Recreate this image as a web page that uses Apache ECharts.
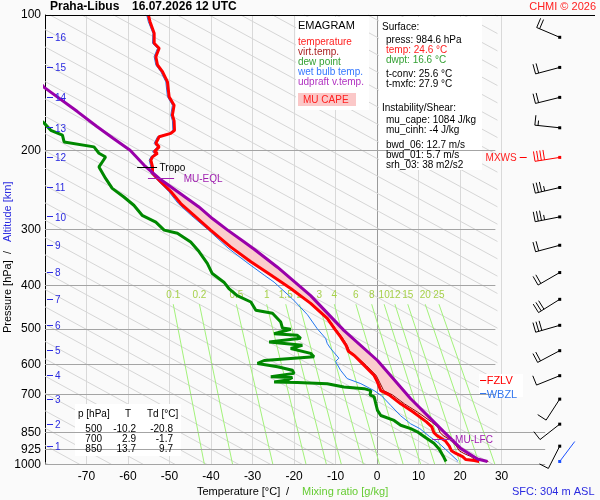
<!DOCTYPE html>
<html>
<head>
<meta charset="utf-8">
<title>Praha-Libus emagram</title>
<script src="https://cdn.jsdelivr.net/npm/echarts@6.0.0/dist/echarts.min.js"></script>
<style>
html, body { margin: 0; padding: 0; background: #fafafa; }
#chart { width: 600px; height: 500px; }
</style>
</head>
<body>
<div id="chart"></div>
<script>
// ---- sounding data ----
var pressureTicks = [100, 200, 300, 400, 500, 600, 700, 850, 925, 1000];
var pressureLines = [200, 300, 400, 500, 600, 700, 850, 925, 1000];
var isotherms = [-70, -60, -50, -40, -30, -20, -10, 0, 10, 20, 30];

// temperature
var tempP = [100, 103.5, 109.8, 115.6, 118.6, 123.8, 129.2, 133.7, 140.8, 152, 158.7, 167, 172, 180.5, 183.4,
    186.6, 193, 196.5, 201.6, 203, 206.8, 210.4, 217.8, 225, 233, 247, 262.7, 279, 301, 328, 354, 379, 406, 438, 473,
    500, 520, 543, 560, 572, 602, 634, 656, 685, 700, 733, 764, 804, 825, 850, 862, 885, 910, 932, 945, 960, 975, 980, 984.6];
var tempT = [-55.1, -54.7, -53.7, -53.7, -52.5, -53.3, -52.9, -51.7, -50.5, -50.1, -48.9, -49.3, -48.9, -48.8, -49.7,
    -52.5, -53.3, -52.5, -53.7, -52.9, -54.1, -54.5, -54.1, -54.1, -52.5, -49.7, -47.3, -44.1, -40.1, -35.3, -30.4, -25.6, -20.8, -16.0, -12.0,
    -10.2, -8.8, -7.5, -6.9, -5.5, -3.1, -0.7, 0.1, 0.9, 2.9, 5.7, 8.7, 11.9, 13.2, 13.7, 14.4, 16.4, 17.4, 17.9, 19.0, 20.6, 21.4, 23.4, 24.6];

// virtual temperature
var virtP = [233, 247, 262.7, 279, 301, 328, 354, 379, 406, 438, 473, 500, 520, 543, 560, 572, 602, 634, 656, 685,
    700, 733, 764, 804, 825, 850, 862, 885, 910, 932, 945, 960, 975, 980, 984.6];
var virtT = [-52.5, -49.7, -47.3, -44.1, -40.0, -35.2, -30.3, -25.5, -20.6, -15.8, -11.8, -9.9, -8.5, -7.2, -6.6, -5.2, -2.6, -0.2, 0.6, 1.6,
    3.7, 6.6, 9.7, 13.1, 14.6, 15.2, 15.9, 17.9, 19.1, 19.8, 20.9, 22.6, 23.5, 25.5, 26.8];

// dew point
var dewP = [170, 174, 180.5, 185, 191.6, 196.5, 203, 207, 217.8, 231, 243, 254, 265, 279, 289, 301, 306, 320, 336, 357,
    376, 393, 406, 421, 435, 454, 461, 482, 497, 500, 512, 516, 524, 534, 543, 552, 566, 576, 587, 596,
    606, 617, 627, 638, 640, 649, 655, 657, 661, 672, 678, 685, 700, 707, 733, 758, 778, 798, 818, 832, 846, 866, 897, 922, 964, 984.6];
var dewT = [-81.5, -80.2, -78.6, -75.8, -75.4, -68.2, -67.0, -65.4, -67.0, -65.4, -63.8, -61.0, -58.6, -56.6, -53.3, -51.3, -48.1, -44.9, -42.9, -40.9,
    -39.7, -36.9, -35.7, -33.7, -30.4, -29.2, -25.2, -23.2, -22.8, -20.8, -24.8, -19.2, -18.4, -26.0, -18.0, -20.8, -16.0, -15.2, -27.2, -28.8,
    -24.0, -20.4, -20.0, -25.6, -20.4, -21.6, -24.8, -19.2, -12.0, -8.0, -3.1, -1.5, -1.7, -0.7, -0.3, 0.1, 0.9, 4.1, 5.7, 8.1, 9.7, 11.3, 13.7, 14.9, 16.1, 16.6];

// wet bulb temperature
var wetP = [100, 103.5, 109.8, 115.6, 118.6, 123.8, 129.2, 133.7, 140.8, 152, 158.7, 167, 172, 180.5, 183.4,
    186.6, 193, 196.5, 201.6, 203, 206.8, 210.4, 217.8, 225, 233, 247, 262.7, 279, 301, 330, 354, 379, 393, 428, 464,
    499, 524, 538, 552, 580, 590, 617, 644, 661, 685, 702, 739, 778, 812, 832, 866, 897, 940, 981, 984.6];
var wetT = [-55.5, -55.1, -54.0, -54.1, -52.9, -53.7, -53.3, -52.1, -50.9, -50.5, -49.3, -49.7, -49.3, -49.2, -50.1,
    -52.9, -53.7, -52.9, -54.1, -53.3, -54.5, -54.9, -54.5, -54.5, -52.9, -50.2, -47.9, -44.8, -40.6, -35.9, -31.6, -27.2, -24.8, -20.4, -16.8,
    -14.4, -12.4, -12.0, -11.2, -9.2, -10.0, -8.8, -7.2, -3.9, -0.7, 1.0, 3.3, 5.6, 8.1, 10.3, 12.6, 14.9, 17.3, 19.4, 19.3];

// most unstable parcel (updraft virtual temperature)
var parcelP = [140, 144.9, 164, 177, 188, 200, 216, 231, 247, 267, 284, 301, 320, 332, 364, 421, 503, 587, 714, 846, 922, 972, 984.6];
var parcelT = [-81.6, -80.2, -72.2, -67.5, -63.6, -59.5, -56.1, -52.5, -48.1, -43.0, -39.6, -36.0, -32.0, -29.6, -24.0, -16.0, -8.0, 0.1, 8.1, 16.1, 20.2, 24.2, 26.6];

var lfcP = 879;
var eqlP = 230.6;

// mixing ratio lines [g/kg]: temperature at top (440 hPa) and at 1000 hPa
var mixRatio = [0.1, 0.2, 0.5, 1, 1.5, 2, 3, 4, 6, 8, 10, 12, 15, 20, 25];
var mixTopT = [-49.1, -42.8, -33.9, -26.6, -22.0, -18.7, -13.9, -10.3, -5.1, -1.3, 1.7, 4.3, 7.4, 11.6, 14.9];
var mixBottomT = [-41.6, -34.8, -25.1, -17.1, -12.2, -8.6, -3.3, 0.6, 6.3, 10.5, 13.9, 16.6, 20.1, 24.7, 28.4];

// altitude scale
var altKm = [16, 15, 14, 13, 12, 11, 10, 9, 8, 7, 6, 5, 4, 3, 2, 1];
var altP = [112.1, 130.8, 152.5, 178.2, 207.4, 242.0, 281.3, 325.3, 374.1, 429.1, 490.2, 558.2, 634.5, 715.4, 813.3, 910.3];

// winds at the altitude levels (direction deg, speed kt)
var windDir = [293, 255, 256, 276, 261, 257, 259, 255, 240, 238, 254, 242, 248, 213, 232, 207];
var windSpd = [20, 20, 20, 15, 40, 35, 35, 20, 20, 30, 30, 20, 10, 10, 10, 10];
var mxwsIndex = 4;
var sfcP = 984.6, sfcWindDir = 37, sfcWindSpd = 0;

// marked levels
var levelName = ['Tropo', 'MU-EQL', 'MU-LFC', 'FZLV', 'WBZL'];
var levelP = [218, 230.6, 879, 650, 695];

// table
var tableP = [500, 700, 850];
var tableT = ['-10.2', '2.9', '13.7'];
var tableTd = ['-20.8', '-1.7', '9.7'];

// ---- styles ----
var FONT = '"Liberation Sans", Arial, sans-serif';
function font(size, bold) { return (bold ? 'bold ' : '') + size + 'px ' + FONT; }
var levelStyle = [
    {color: '#000000', x0: -57.8, x1: -53.0, tx: -52.4, size: 10},
    {color: '#a020b0', x0: -55.2, x1: -48.9, tx: -46.6, size: 10},
    {color: '#a020b0', x0: 13.3, x1: 18.6, tx: 18.8, size: 10},
    {color: '#ff0000', x0: 24.8, x1: 26.3, tx: 26.4, size: 11},
    {color: '#3377ee', x0: 24.8, x1: 26.3, tx: 26.4, size: 11}
];
var windColumnT = 44;
var adiabatAnchorT = 142.9, adiabatStepT = 7.66, adiabatSpanT = 198.7, adiabatEndT = 29;
var mixTopP = 440;
var xMin = -80, xMax = 52.5;

function pairs(tArr, pArr) {
    var out = [];
    for (var i = 0; i < pArr.length; i++) out.push([tArr[i], pArr[i]]);
    return out;
}
function crisp(v) { return Math.round(v - 0.5) + 0.5; }
function interpT(pArr, tArr, p) {
    for (var i = 1; i < pArr.length; i++) {
        if (p <= pArr[i]) {
            var f = Math.log(p / pArr[i - 1]) / Math.log(pArr[i] / pArr[i - 1]);
            return tArr[i - 1] + f * (tArr[i] - tArr[i - 1]);
        }
    }
    return tArr[tArr.length - 1];
}

// ---- render functions ----
function renderIsotherm(params, api) {
    var t = api.value(0);
    var a = api.coord([t, 100]), b = api.coord([t, 1000]);
    var x = crisp(a[0]);
    return {type: 'line', shape: {x1: x, y1: a[1], x2: x, y2: b[1]},
        style: {stroke: t === 0 ? '#9a9a9a' : '#d9d9d9', lineWidth: 1}};
}

function renderPressureLine(params, api) {
    var p = api.value(1);
    var a = api.coord([xMin, p]), b = api.coord([p >= 850 ? 40.5 : 28.5, p]);
    var y = crisp(a[1]);
    return {type: 'line', shape: {x1: a[0], y1: y, x2: b[0], y2: y},
        style: {stroke: '#a4a4a4', lineWidth: 1}};
}

// black top frame of the diagram, along the 100 hPa level
function renderFrame(params, api) {
    var a = api.coord([xMin, 500]), b = api.coord([xMax, 500]);
    var top = api.coord([xMin, 100])[1];
    return {type: 'rect', shape: {x: a[0], y: Math.round(top), width: b[0] - a[0], height: 1},
        style: {fill: '#000000'}};
}

function renderAdiabats(params, api) {
    var left = api.coord([xMin, 1000])[0], right = api.coord([adiabatEndT, 1000])[0];
    var kids = [];
    for (var k = -12; k <= 30; k++) {
        var base = adiabatAnchorT - k * adiabatStepT;
        var a = api.coord([base, 1000]), b = api.coord([base - adiabatSpanT, 100]);
        var x1 = a[0], y1 = a[1], x2 = b[0], y2 = b[1];
        if (x1 < left || x2 > right) continue;
        if (x1 > right) { y1 = y2 + (y1 - y2) * (right - x2) / (x1 - x2); x1 = right; }
        if (x2 < left) { y2 = y2 + (y1 - y2) * (left - x2) / (x1 - x2); x2 = left; }
        kids.push({type: 'line', shape: {x1: x1, y1: y1, x2: x2, y2: y2},
            style: {stroke: '#d6d6d6', lineWidth: 1}});
    }
    return {type: 'group', children: kids};
}

function renderMixing(params, api) {
    var a = api.coord([api.value(0), api.value(1)]);
    var b = api.coord([api.value(2), 1000]);
    return {type: 'group', children: [
        {type: 'line', shape: {x1: a[0], y1: a[1], x2: b[0], y2: b[1]},
            style: {stroke: '#a3f27a', lineWidth: 1}},
        {type: 'text', style: {text: String(api.value(3)), x: a[0], y: a[1] - 9,
            textAlign: 'center', textVerticalAlign: 'middle', fill: '#a6d04a', font: font(10)}}
    ]};
}

function renderCape(params, api) {
    var pts = [];
    pts.push(api.coord([interpT(parcelP, parcelT, eqlP), eqlP]));
    for (var i = 0; i < parcelP.length; i++) {
        if (parcelP[i] > eqlP && parcelP[i] < lfcP) pts.push(api.coord([parcelT[i], parcelP[i]]));
    }
    pts.push(api.coord([interpT(parcelP, parcelT, lfcP), lfcP]));
    pts.push(api.coord([interpT(virtP, virtT, lfcP), lfcP]));
    for (var j = virtP.length - 1; j >= 0; j--) {
        if (virtP[j] > eqlP && virtP[j] < lfcP) pts.push(api.coord([virtT[j], virtP[j]]));
    }
    return {type: 'polygon', shape: {points: pts}, style: {fill: '#fbcdcd', stroke: null}};
}

function renderAltitude(params, api) {
    var c = api.coord([xMin, api.value(1)]);
    var y = crisp(c[1]);
    return {type: 'group', children: [
        {type: 'line', shape: {x1: c[0] + 2, y1: y, x2: c[0] + 8, y2: y}, style: {stroke: '#2a2ae0', lineWidth: 1}},
        {type: 'text', style: {text: String(api.value(2)), x: c[0] + 10, y: c[1] + 1,
            textAlign: 'left', textVerticalAlign: 'middle', fill: '#2a2ae0', font: font(10)}}
    ]};
}

function renderLevel(params, api) {
    var s = levelStyle[params.dataIndex];
    var p = api.value(1);
    var a = api.coord([s.x0, p]), b = api.coord([s.x1, p]), t = api.coord([s.tx, p]);
    var y = crisp(a[1]);
    return {type: 'group', children: [
        {type: 'line', shape: {x1: a[0], y1: y, x2: b[0], y2: y}, style: {stroke: s.color, lineWidth: 1}},
        {type: 'text', style: {text: levelName[params.dataIndex], x: t[0], y: a[1] + 1,
            textAlign: 'left', textVerticalAlign: 'middle', fill: s.color, font: font(s.size)}}
    ]};
}

function barbRenderer(color, markMax) {
    return function (params, api) {
        var c = api.coord([api.value(0), api.value(1)]);
        var ang = api.value(2) * Math.PI / 180;
        var spd = api.value(3);
        var col = (markMax && params.dataIndex === mxwsIndex) ? '#ff0000' : color;
        var ux = Math.sin(ang), uy = -Math.cos(ang);
        var bx = Math.cos(ang), by = Math.sin(ang);
        var tx = c[0] + ux * 25, ty = c[1] + uy * 25;
        var kids = [
            {type: 'line', shape: {x1: c[0], y1: c[1], x2: tx, y2: ty}, style: {stroke: col, lineWidth: 1}},
            {type: 'rect', shape: {x: c[0] - 1.5, y: c[1] - 1.5, width: 3, height: 3}, style: {fill: col}}
        ];
        var full = Math.floor(spd / 10), half = (spd % 10) >= 5 ? 1 : 0;
        for (var i = 0; i < full + half; i++) {
            var len = i < full ? 10 : 5;
            var sx = tx - ux * 3.2 * i, sy = ty - uy * 3.2 * i;
            kids.push({type: 'line', shape: {x1: sx, y1: sy, x2: sx + bx * len, y2: sy + by * len},
                style: {stroke: col, lineWidth: 1}});
        }
        if (markMax && params.dataIndex === mxwsIndex) {
            kids.push({type: 'line', shape: {x1: c[0] - 40, y1: crisp(c[1]), x2: c[0] - 33, y2: crisp(c[1])},
                style: {stroke: '#ff0000', lineWidth: 1}});
            kids.push({type: 'text', style: {text: 'MXWS', x: c[0] - 43, y: c[1] + 1, textAlign: 'right',
                textVerticalAlign: 'middle', fill: '#ff2020', font: font(10)}});
        }
        return {type: 'group', children: kids};
    };
}

function lineSeries(data, color, width, z) {
    return {type: 'line', data: data, symbol: 'none', showSymbol: false, z: z,
        lineStyle: {color: color, width: width}, silent: true, animation: false};
}

var windData = altP.map(function (p, i) { return [windColumnT, p, windDir[i], windSpd[i]]; });

// ---- text overlays ----
function txt(x, y, s, color, size, opts) {
    opts = opts || {};
    return {type: 'text', x: x, y: y, z: 20, rotation: opts.rotation || 0,
        style: {text: s, fill: color, font: font(size, opts.bold), textAlign: opts.align || 'left', textVerticalAlign: 'middle'}};
}
function box(x, y, w, h, fill, z) {
    return {type: 'rect', z: z || 2, shape: {x: x, y: y, width: w, height: h}, style: {fill: fill}};
}

var graphics = [
    txt(50, 7, 'Praha-Libus', '#000', 12, {bold: true}),
    txt(132, 7, '16.07.2026 12 UTC', '#000', 12, {bold: true}),
    txt(596, 7, 'CHMI \u00a9 2026', '#ff2020', 11, {align: 'right'}),

    box(296, 17, 73, 93, '#ffffff'),
    txt(298, 26, 'EMAGRAM', '#000', 11),
    txt(298, 42, 'temperature', '#ff2020', 10),
    txt(298, 52, 'virt.temp.', '#aa2222', 10),
    txt(298, 62, 'dew point', '#33a033', 10),
    txt(298, 72, 'wet bulb temp.', '#3377ff', 10),
    txt(298, 82, 'udpraft v.temp.', '#b030c0', 10),
    box(298, 93, 58, 13, '#fbc8c8', 3),
    txt(303, 100, 'MU CAPE', '#ff2020', 10),

    box(379, 17, 103, 153, '#ffffff'),
    txt(382, 27, 'Surface:', '#000', 10),
    txt(386, 40, 'press: 984.6 hPa', '#000', 10),
    txt(386, 50, 'temp: 24.6 \u00b0C', '#ff2020', 10),
    txt(386, 60, 'dwpt: 16.6 \u00b0C', '#33a033', 10),
    txt(386, 74, 't-conv: 25.6 \u00b0C', '#000', 10),
    txt(386, 84, 't-mxfc: 27.9 \u00b0C', '#000', 10),
    txt(382, 108, 'Instability/Shear:', '#000', 10),
    txt(386, 120, 'mu_cape: 1084 J/kg', '#000', 10),
    txt(386, 130, 'mu_cinh: -4 J/kg', '#000', 10),
    txt(386, 145, 'bwd_06: 12.7 m/s', '#000', 10),
    txt(386, 155, 'bwd_01: 5.7 m/s', '#000', 10),
    txt(386, 165, 'srh_03: 38 m2/s2', '#000', 10),

    box(75, 404, 106, 52, '#ffffff'),
    txt(78, 414, 'p [hPa]', '#000', 10),
    txt(128, 414, 'T', '#000', 10, {align: 'center'}),
    txt(147, 414, 'Td [\u00b0C]', '#000', 10),

    box(479, 374, 44, 23, '#ffffff'),

    txt(197, 492, 'Temperature [\u00b0C]', '#000', 11),
    txt(286, 492, '/', '#000', 11),
    txt(302, 492, 'Mixing ratio [g/kg]', '#66cc33', 11),
    txt(512, 492, 'SFC: 304 m ASL', '#2a2ae0', 11),

    txt(8, 333, 'Pressure [hPa]', '#000', 11, {rotation: Math.PI / 2}),
    txt(8, 254, '/', '#000', 11, {rotation: Math.PI / 2}),
    txt(8, 242, 'Altitude [km]', '#2a2ae0', 11, {rotation: Math.PI / 2})
];
for (var r = 0; r < tableP.length; r++) {
    var ty = 429 + r * 10;
    graphics.push(txt(102, ty, String(tableP[r]), '#000', 10, {align: 'right'}));
    graphics.push(txt(136, ty, tableT[r], '#000', 10, {align: 'right'}));
    graphics.push(txt(173, ty, tableTd[r], '#000', 10, {align: 'right'}));
}

var option = {
    backgroundColor: '#fafafa',
    animation: false,
    grid: {left: 45, right: 5, top: 15, bottom: 35.5, containLabel: false, outerBoundsMode: 'none'},
    xAxis: {
        type: 'value', min: xMin, max: xMax, interval: 10,
        axisLine: {show: false}, axisTick: {show: false}, splitLine: {show: false},
        axisLabel: {
            color: '#000', fontSize: 12, fontFamily: FONT, margin: 6,
            formatter: function (v) { return (v >= -70 && v <= 30) ? String(v) : ''; }
        }
    },
    yAxis: {
        type: 'log', logBase: 10, min: 100, max: 1000, inverse: true,
        axisLine: {show: true, onZero: false, lineStyle: {color: '#000', width: 1}},
        axisTick: {show: false}, splitLine: {show: false}, minorSplitLine: {show: false},
        axisLabel: {
            customValues: pressureTicks, color: '#000', fontSize: 12, fontFamily: FONT, margin: 4,
            formatter: function (v) { return String(Math.round(v)); }
        }
    },
    graphic: graphics,
    series: [
        {type: 'custom', z: 1, silent: true, renderItem: renderIsotherm,
            data: isotherms.map(function (t) { return [t, 500]; })},
        {type: 'custom', z: 1, silent: true, renderItem: renderAdiabats, data: [[0, 500]]},
        {type: 'custom', z: 1, silent: true, renderItem: renderMixing,
            data: mixRatio.map(function (w, i) { return [mixTopT[i], mixTopP, mixBottomT[i], w]; })},
        {type: 'custom', z: 3, silent: true, renderItem: renderPressureLine,
            data: pressureLines.map(function (p) { return [xMin, p]; })},
        {type: 'custom', z: 30, silent: true, renderItem: renderFrame, data: [[0, 500]]},
        {type: 'custom', z: 4, silent: true, renderItem: renderCape, data: [[0, 500]]},
        lineSeries(pairs(dewT, dewP), '#008800', 3, 5),
        lineSeries(pairs(wetT, wetP), '#2277ee', 1, 6),
        lineSeries(pairs(virtT, virtP), '#990000', 1, 6),
        lineSeries(pairs(tempT, tempP), '#ff0000', 3, 7),
        lineSeries(pairs(parcelT, parcelP), '#9900aa', 3, 8),
        {type: 'custom', z: 9, silent: true, renderItem: renderLevel,
            data: levelP.map(function (p, i) { return [levelStyle[i].x0, p]; })},
        {type: 'custom', z: 9, silent: true, renderItem: renderAltitude,
            data: altP.map(function (p, i) { return [xMin, p, altKm[i]]; })},
        {type: 'custom', z: 9, silent: true, renderItem: barbRenderer('#000000', true), data: windData},
        {type: 'custom', z: 9, silent: true, renderItem: barbRenderer('#1a4fff', false),
            data: [[windColumnT, sfcP, sfcWindDir, sfcWindSpd]]}
    ]
};

var chart = echarts.init(document.getElementById('chart'));
chart.setOption(option);
</script>
</body>
</html>
